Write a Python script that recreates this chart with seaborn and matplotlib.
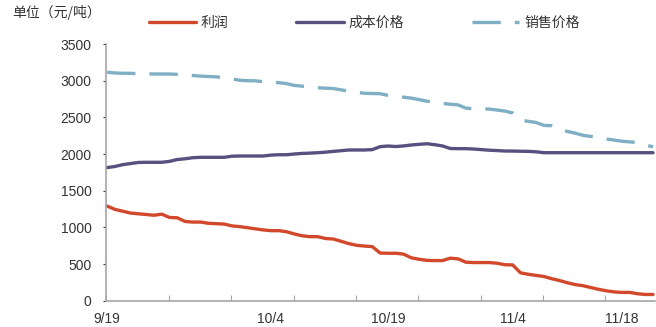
import numpy as np
import pandas as pd
import matplotlib
matplotlib.use("Agg")
import matplotlib.pyplot as plt
import seaborn as sns

# ---- data ----
profit = [1290, 1245, 1220, 1195, 1185, 1175, 1165, 1180, 1135, 1130,
          1080, 1072, 1072, 1055, 1050, 1045, 1020, 1010, 995, 980,
          965, 955, 955, 940, 910, 885, 873, 873, 848, 841,
          810, 778, 755, 745, 737, 650, 647, 647, 635, 585,
          565, 550, 547, 547, 580, 570, 525, 520, 520, 520,
          511, 490, 488, 380, 360, 345, 330, 300, 275, 245,
          220, 205, 180, 155, 135, 120, 113, 113, 95, 85, 85]
cost = [1815, 1830, 1855, 1870, 1885, 1887, 1887, 1887, 1900, 1925,
        1935, 1950, 1955, 1955, 1955, 1955, 1970, 1973, 1973, 1973,
        1973, 1985, 1990, 1990, 2000, 2008, 2012, 2018, 2025, 2036,
        2045, 2055, 2055, 2055, 2060, 2100, 2109, 2102, 2110, 2123,
        2132, 2140, 2127, 2110, 2075, 2073, 2073, 2068, 2060, 2052,
        2047, 2041, 2040, 2038, 2036, 2030, 2018, 2018, 2018, 2018,
        2018, 2018, 2018, 2018, 2018, 2018, 2018, 2018, 2018, 2018, 2018]
sales = [3115, 3105, 3101, 3100, 3095, 3093, 3091, 3091, 3091, 3085,
         3076, 3070, 3062, 3057, 3052, 3040, 3025, 3005, 3000, 2998,
         2985, 2978, 2973, 2960, 2935, 2925, 2915, 2903, 2898, 2893,
         2875, 2857, 2840, 2828, 2825, 2822, 2800, 2785, 2775, 2762,
         2742, 2720, 2705, 2690, 2678, 2670, 2625, 2618, 2618, 2612,
         2600, 2585, 2560, 2464, 2445, 2430, 2390, 2386, 2330, 2308,
         2285, 2255, 2240, 2225, 2205, 2190, 2175, 2165, 2158, 2120, 2100]
series_names = ["利润", "成本价格", "销售价格"]
tick_labels = ["9/19", "10/4", "10/19", "11/4", "11/18"]
label_idx = [0, 21, 36, 52, 66]
unit_label = "单位（元/吨）"

n = len(profit)
idx = np.arange(n)
df = pd.DataFrame({"idx": np.tile(idx, 3),
                   "value": profit + cost + sales,
                   "series": np.repeat(series_names, n)})

sns.set_theme(style="white")
plt.rcParams["font.family"] = ["Liberation Sans", "Noto Sans CJK SC", "DejaVu Sans"]

fig = plt.figure(figsize=(6.56, 3.27), dpi=100)
ax = fig.add_axes([106/656, 1 - 300.7/327, (655-106)/656, (300.7-44)/327])

colors = {"利润": "#D2482A", "成本价格": "#58507F", "销售价格": "#7EAFC5"}
sns.lineplot(data=df, x="idx", y="value", hue="series", palette=colors,
             hue_order=series_names, ax=ax, linewidth=2.4, legend=False)
lines = ax.get_lines()
lines[2].set_dashes((8.5, 4.2))

ax.set_xlim(-0.15, 70.25)
ax.set_ylim(0, 3500)
ax.set_yticks(np.arange(0, 3501, 500))
ax.set_xticks(label_idx)
ax.set_xticklabels(tick_labels)
ax.set_xticks(np.arange(0, 70, 8) - 0.1, minor=True)
ax.tick_params(axis="x", which="major", length=0, pad=8, labelsize=10, colors="#333333")
ax.tick_params(axis="x", which="minor", length=4, direction="in", width=0.8, color="#A6A6A6", bottom=True)
ax.tick_params(axis="y", which="major", length=2.5, direction="out", width=0.8, color="#A6A6A6",
               pad=8, labelsize=10, colors="#333333", left=True)
ax.tick_params(axis="y", colors="#333333")
for t in ax.get_yticklines():
    t.set_color("#A6A6A6")
for s in ["top", "right"]:
    ax.spines[s].set_visible(False)
for s in ["left", "bottom"]:
    ax.spines[s].set_color("#A6A6A6")
    ax.spines[s].set_linewidth(1.2)
ax.set_xlabel("")
ax.set_ylabel("")

fig.text(12/656, 1 - 13/327, unit_label, ha="left", va="center", fontsize=10,
         color="#333333", family=["Noto Sans CJK SC", "DejaVu Sans"])

handles = [plt.Line2D([], [], color=colors[s], linewidth=2.4) for s in series_names]
handles[2].set_dashes((8.5, 4.2))
leg = fig.legend(handles, series_names, loc="center", bbox_to_anchor=(0.555, 0.93), ncol=3,
                 frameon=False, handlelength=3.4, handletextpad=0.35, columnspacing=4.9,
                 prop={"family": ["Noto Sans CJK SC", "DejaVu Sans"], "size": 10})
for t in leg.get_texts():
    t.set_color("#333333")

fig.savefig("out.png", dpi=100)
